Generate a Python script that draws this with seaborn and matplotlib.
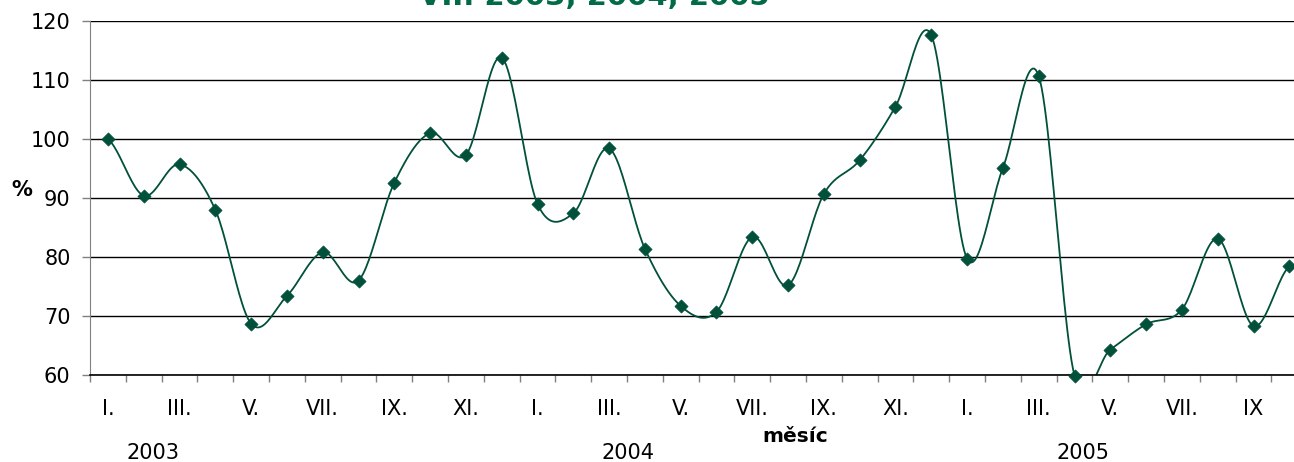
import numpy as np
import pandas as pd
import seaborn as sns
import matplotlib.pyplot as plt

# index per month, I.2003 - X.2005
hodnoty_2003 = [100.0, 90.4, 95.7, 88.0, 68.7, 73.4, 80.8, 76.0, 92.6, 101.0, 97.3, 113.8]
hodnoty_2004 = [89.0, 87.4, 98.4, 81.4, 71.7, 70.7, 83.4, 75.2, 90.7, 96.4, 105.5, 117.6]
hodnoty_2005 = [79.7, 95.1, 110.7, 59.9, 64.3, 68.6, 71.1, 83.1, 68.3, 78.4]
mesice = ["I.", "II.", "III.", "IV.", "V.", "VI.", "VII.", "VIII.", "IX.", "X.", "XI.", "XII."]
popisky_2005 = ["I.", "II.", "III.", "IV.", "V.", "VI.", "VII.", "VIII.", "IX", "X."]
roky = ["2003", "2004", "2005"]

y = np.array(hodnoty_2003 + hodnoty_2004 + hodnoty_2005)
popisky = mesice + mesice + popisky_2005
x = np.arange(len(y))
df = pd.DataFrame({"x": x, "y": y})

# vyhlazena cara (jako v Excelu) - Catmull-Rom mezi body
tang = np.gradient(y)
tang[0] = (y[1] - y[0]) / 2
tang[-1] = (y[-1] - y[-2]) / 2
xs, ys = [], []
t = np.linspace(0, 1, 25)
for i in range(len(y) - 1):
    h00 = 2 * t**3 - 3 * t**2 + 1
    h10 = t**3 - 2 * t**2 + t
    h01 = -2 * t**3 + 3 * t**2
    h11 = t**3 - t**2
    xs.extend(x[i] + t)
    ys.extend(h00 * y[i] + h10 * tang[i] + h01 * y[i + 1] + h11 * tang[i + 1])
krivka = pd.DataFrame({"x": xs, "y": ys})

zelena = "#00503a"
sns.set_style("white")
plt.rcParams["font.family"] = ["DejaVu Sans"]
plt.rcParams["text.color"] = "black"

fig = plt.figure(figsize=(12.94, 4.62), dpi=100)
ax = fig.add_axes([90 / 1294, 1 - 375 / 462, 1 - 90 / 1294, (375 - 21) / 462])

sns.lineplot(data=krivka, x="x", y="y", sort=False, color=zelena, linewidth=1.3, ax=ax)
sns.scatterplot(data=df, x="x", y="y", marker="D", s=45, color=zelena, edgecolor=zelena,
                linewidth=0.5, zorder=3, clip_on=False, ax=ax)

xmax = (1294 - 90) / 35.8 - 0.5
ax.set_yticks(range(60, 121, 10))
ax.yaxis.grid(True, color="black", linewidth=1)
ax.set_axisbelow(True)

ax.set_xticks(x[::2])
ax.set_xticklabels(popisky[::2])
ax.set_xticks(np.arange(len(y)) - 0.5, minor=True)
ax.set_ylim(60, 120)
ax.set_xlim(-0.5, xmax)
ax.tick_params(axis="x", which="major", length=0, pad=17, labelsize=15, labelcolor="black")
ax.tick_params(axis="x", which="minor", length=5, color="#808080", width=1, direction="out")
ax.tick_params(axis="y", length=6, color="#808080", width=1, direction="out", pad=8,
               labelsize=15, labelcolor="black")
ax.xaxis.set_ticks_position("bottom")
ax.yaxis.set_ticks_position("left")

for s in ["top", "right"]:
    ax.spines[s].set_visible(False)
ax.spines["left"].set_color("#808080")
ax.spines["bottom"].set_color("black")
ax.spines["bottom"].set_linewidth(1.2)

ax.set_xlabel("")
ax.set_ylabel("")
fig.text(22 / 1294, 1 - 190 / 462, "%", fontsize=15, fontweight="bold", ha="center", va="center")
fig.text(795 / 1294, 1 - 436 / 462, "měsíc", fontsize=14.5, fontweight="bold", ha="center", va="center")
for rok, xp in zip(roky, [153, 628, 1083]):
    fig.text(xp / 1294, 1 - 453 / 462, rok, fontsize=15, ha="center", va="center")

fig.text(594 / 1294, 1 - 5 / 462, "VII. 2003, 2004, 2005", fontsize=21, fontweight="bold",
         color="#006b45", ha="center", va="baseline")

fig.savefig("out.png", dpi=100)
